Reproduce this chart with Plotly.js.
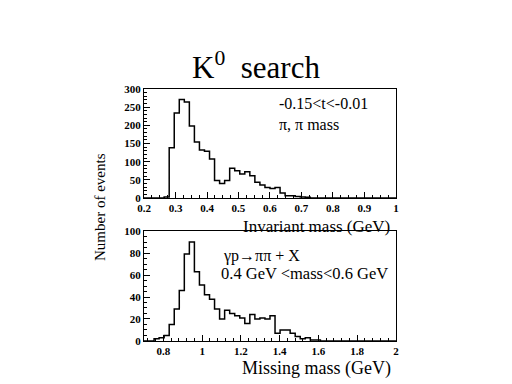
<!DOCTYPE html>
<html><head><meta charset="utf-8">
<script src="https://cdn.plot.ly/plotly-3.0.1.min.js"></script>
<style>html,body{margin:0;padding:0;background:#fff}#g{width:512px;height:384px}</style>
</head><body><div id="g"></div>
<script>
// Top histogram: pi,pi invariant mass, 50 bins from 0.2 to 1.0
const topStart = 0.2, topWidth = 0.016;
const topCounts = [0,0,0,0,3,138,234,271,264,198,154,132,129,107,48,40,48,82,75,66,
  72,61,43,36,29,26,29,14,6,6,4,3,2,0,0,0,0,0,0,0,0,0,0,0,0,0,0,0,0,0];
// Bottom histogram: missing mass, 50 bins from 0.7 to 2.0
const botStart = 0.7, botWidth = 0.026;
const botCounts = [0,0,2,3,5,15,29,46,79,90,63,51,42,38,29,20,28,25,23,21,
  16,24,20,21,20,23,7,10,10,7,4,2,3,1,1,0,0,0,0,0,0,0,0,0,0,0,0,0,0,0];

function edges(start, w, n){ const e=[]; for(let i=0;i<=n;i++) e.push(+(start+i*w).toFixed(4)); return e; }
function stepY(c){ return c.concat([c[c.length-1]]); }

const serif = 'Liberation Serif, Times New Roman, serif';
const tickFont = {family: serif, size: 11, color:'#000', weight:'bold'};

const traces = [
  {x: edges(topStart, topWidth, topCounts.length), y: stepY(topCounts), type:'scatter', mode:'lines',
   line:{shape:'hv', color:'#000', width:1.5}, xaxis:'x', yaxis:'y', hoverinfo:'none'},
  {x: edges(botStart, botWidth, botCounts.length), y: stepY(botCounts), type:'scatter', mode:'lines',
   line:{shape:'hv', color:'#000', width:1.5}, xaxis:'x2', yaxis:'y2', hoverinfo:'none'}
];

const axBase = {showline:true, linecolor:'#000', linewidth:1, mirror:true, ticks:'inside',
  tickcolor:'#000', ticklen:6, tickwidth:1, showgrid:false, zeroline:false, tickfont:tickFont,
  fixedrange:true, ticklabelstandoff:0};

const layout = {
  width:512, height:384, margin:{l:0,r:0,t:0,b:0}, paper_bgcolor:'#fff', plot_bgcolor:'#fff',
  showlegend:false,
  title:{text:'K<sup>0</sup>  search', font:{family:serif, size:31, color:'#000'}, x:0.5, xanchor:'center', y:0.825, yanchor:'middle'},
  xaxis: Object.assign({}, axBase, {domain:[0.28125,0.7734], range:[0.2,1], dtick:0.1, tick0:0.2,
    minor:{dtick:0.025, ticklen:3, tickcolor:'#000', ticks:'inside', showgrid:false}, anchor:'y'}),
  yaxis: Object.assign({}, axBase, {domain:[0.4844,0.7682], range:[0,300], dtick:50,
    minor:{dtick:10, ticklen:3, tickcolor:'#000', ticks:'inside', showgrid:false}, anchor:'x'}),
  xaxis2: Object.assign({}, axBase, {domain:[0.28125,0.7734], range:[0.7,2], dtick:0.2, tick0:0.8,
    minor:{dtick:0.04, ticklen:3, tickcolor:'#000', ticks:'inside', showgrid:false}, anchor:'y2'}),
  yaxis2: Object.assign({}, axBase, {domain:[0.112,0.3984], range:[0,100], dtick:20,
    minor:{dtick:5, ticklen:3, tickcolor:'#000', ticks:'inside', showgrid:false}, anchor:'x2'}),
  annotations: [
    {text:'-0.15&lt;t&lt;-0.01', xref:'paper', yref:'paper', x:277/512, y:1-104/384, xanchor:'left', yanchor:'middle', showarrow:false, font:{family:serif, size:16, color:'#000'}},
    {text:'π, π mass', xref:'paper', yref:'paper', x:277/512, y:1-124/384, xanchor:'left', yanchor:'middle', showarrow:false, font:{family:serif, size:16, color:'#000'}},
    {text:'γp→ππ + X', xref:'paper', yref:'paper', x:221/512, y:1-256/384, xanchor:'left', yanchor:'middle', showarrow:false, font:{family:serif, size:16, color:'#000'}},
    {text:'0.4 GeV &lt;mass&lt;0.6 GeV', xref:'paper', yref:'paper', x:219/512, y:1-273/384, xanchor:'left', yanchor:'middle', showarrow:false, font:{family:serif, size:16.5, color:'#000'}},
    {text:'Invariant mass (GeV)', xref:'paper', yref:'paper', x:392/512, y:1-226/384, xanchor:'right', yanchor:'middle', showarrow:false, font:{family:serif, size:17, color:'#000'}},
    {text:'Missing mass (GeV)', xref:'paper', yref:'paper', x:393/512, y:1-368/384, xanchor:'right', yanchor:'middle', showarrow:false, font:{family:serif, size:18, color:'#000'}},
    {text:'Number of events', xref:'paper', yref:'paper', x:100/512, y:1-207/384, xanchor:'center', yanchor:'middle', textangle:-90, showarrow:false, font:{family:serif, size:15, color:'#000'}}
  ]
};
Plotly.newPlot('g', traces, layout, {staticPlot:true, displayModeBar:false});
</script></body></html>
